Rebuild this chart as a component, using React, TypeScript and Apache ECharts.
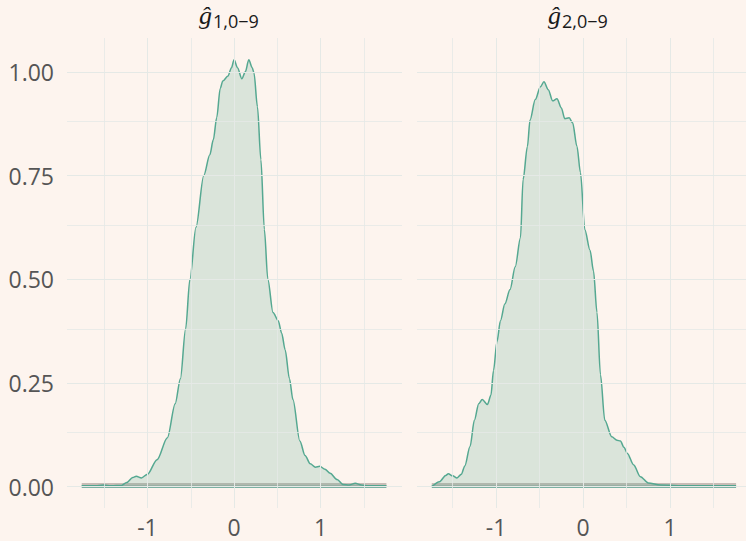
import React, { useEffect, useRef } from "react";
import * as echarts from "echarts";

// Density estimates
const g1: [number, number][] = [
  [-1.76, 0.002], [-1.6, 0.002], [-1.51, 0.004], [-1.42, 0.002], [-1.3, 0.003], [-1.24, 0.01],
  [-1.17, 0.022], [-1.13, 0.025], [-1.07, 0.021], [-1.0, 0.03], [-0.89, 0.065], [-0.77, 0.118],
  [-0.68, 0.2], [-0.62, 0.26], [-0.56, 0.38], [-0.51, 0.5], [-0.44, 0.625], [-0.35, 0.75],
  [-0.28, 0.8], [-0.24, 0.836], [-0.2, 0.89], [-0.16, 0.96], [-0.13, 0.978], [-0.07, 0.99],
  [-0.03, 1.01], [0.0, 1.029], [0.04, 1.01], [0.09, 0.983], [0.13, 1.0], [0.17, 1.029],
  [0.21, 1.01], [0.23, 0.997], [0.27, 0.916], [0.31, 0.788], [0.35, 0.62], [0.39, 0.5],
  [0.45, 0.42], [0.51, 0.4], [0.55, 0.37], [0.59, 0.33], [0.64, 0.26], [0.68, 0.21],
  [0.76, 0.11], [0.82, 0.075], [0.88, 0.055], [0.94, 0.047], [0.99, 0.049], [1.05, 0.042],
  [1.11, 0.032], [1.19, 0.017], [1.26, 0.005], [1.33, 0.004], [1.4, 0.008], [1.47, 0.004],
  [1.55, 0.002], [1.76, 0.002],
];

const g2: [number, number][] = [
  [-1.74, 0.0], [-1.65, 0.012], [-1.58, 0.027], [-1.55, 0.031], [-1.5, 0.026], [-1.45, 0.021],
  [-1.4, 0.03], [-1.36, 0.05], [-1.3, 0.097], [-1.25, 0.16], [-1.2, 0.2], [-1.16, 0.21],
  [-1.1, 0.198], [-1.06, 0.22], [-1.03, 0.28], [-0.99, 0.35], [-0.95, 0.4], [-0.9, 0.44],
  [-0.84, 0.475], [-0.78, 0.53], [-0.72, 0.6], [-0.69, 0.74], [-0.64, 0.82], [-0.61, 0.884],
  [-0.55, 0.933], [-0.49, 0.964], [-0.45, 0.976], [-0.4, 0.957], [-0.35, 0.93], [-0.3, 0.935],
  [-0.25, 0.913], [-0.21, 0.887], [-0.16, 0.889], [-0.12, 0.877], [-0.07, 0.82], [-0.03, 0.757],
  [0.02, 0.62], [0.08, 0.57], [0.12, 0.52], [0.16, 0.42], [0.2, 0.27], [0.25, 0.16],
  [0.33, 0.12], [0.39, 0.112], [0.43, 0.11], [0.47, 0.095], [0.51, 0.08], [0.58, 0.053],
  [0.66, 0.024], [0.75, 0.009], [0.89, 0.004], [1.2, 0.002], [1.76, 0.002],
];

// Flat band of the second group near zero
const band1: [number, number][] = [[-1.76, 0.009], [1.76, 0.009]];
const band2: [number, number][] = [[-1.74, 0.009], [1.76, 0.009]];
const base1: [number, number][] = [[-1.76, 0], [1.76, 0]];
const base2: [number, number][] = [[-1.74, 0], [1.76, 0]];

const yTicks = [0, 0.25, 0.5, 0.75, 1.0];
const yMinor = [0.125, 0.375, 0.625, 0.875];
const xTicks = [-1, 0, 1];
const xMinor = [-1.5, -0.5, 0.5, 1.5];
const titleSubs = ["1,0−9", "2,0−9"];

const BG = "#fdf4ee";
const LINE = "#55a891";
const GRID = "#e5e9e6";
const LABEL = "#555555";
const FONT = "'Open Sans', sans-serif";

export default function App() {
  const ref = useRef<HTMLDivElement>(null);
  useEffect(() => {
    document.body.style.margin = "0";
    if (!ref.current) return;
    const chart = echarts.init(ref.current, undefined, { renderer: "svg" });
    const gridMarks = {
      silent: true,
      symbol: "none",
      label: { show: false },
      lineStyle: { color: GRID, type: "solid", width: 1 },
      data: [
        ...yTicks.map((v) => ({ yAxis: v })),
        ...yMinor.map((v) => ({ yAxis: v, lineStyle: { width: 0.8 } })),
        ...xTicks.map((v) => ({ xAxis: v })),
        ...xMinor.map((v) => ({ xAxis: v, lineStyle: { width: 0.8 } })),
      ],
    };
    const panelSeries = (i: number, dens: [number, number][], band: [number, number][], base: [number, number][]) => [
      {
        type: "line",
        xAxisIndex: i,
        yAxisIndex: i,
        data: band,
        symbol: "none",
        z: 1,
        lineStyle: { width: 0 },
        areaStyle: { color: "rgba(120,105,98,0.4)", opacity: 1 },
        markLine: gridMarks,
      },
      {
        type: "line",
        xAxisIndex: i,
        yAxisIndex: i,
        data: dens,
        symbol: "none",
        smooth: 0.3,
        smoothMonotone: "x",
        z: 3,
        lineStyle: { color: LINE, width: 1.5 },
        areaStyle: { color: "rgba(80,165,140,0.2)", opacity: 1 },
      },
      {
        type: "line",
        xAxisIndex: i,
        yAxisIndex: i,
        data: base,
        symbol: "none",
        z: 4,
        lineStyle: { color: "#4f9a88", width: 2 },
      },
    ];
    const xAxisBase = {
      type: "value",
      axisLine: { show: false },
      axisTick: { show: false },
      splitLine: { show: false },
      axisLabel: {
        customValues: xTicks,
        color: LABEL,
        fontSize: 23,
        fontFamily: FONT,
        margin: 7,
        formatter: (v: number) => String(v),
      },
    };
    const yAxisBase = {
      type: "value",
      min: -0.0515,
      max: 1.0815,
      axisLine: { show: false },
      axisTick: { show: false },
      splitLine: { show: false },
    };
    chart.setOption({
      animation: false,
      backgroundColor: BG,
      grid: [
        { left: 67, right: 344, top: 38, bottom: 33 },
        { left: 417, right: 0, top: 38, bottom: 33 },
      ],
      xAxis: [
        { ...xAxisBase, gridIndex: 0, min: -1.93, max: 1.94 },
        { ...xAxisBase, gridIndex: 1, min: -1.91, max: 1.874 },
      ],
      yAxis: [
        {
          ...yAxisBase,
          gridIndex: 0,
          axisLabel: {
            customValues: yTicks,
            color: LABEL,
            fontSize: 23,
            fontFamily: FONT,
            margin: 13,
            formatter: (v: number) => v.toFixed(2),
          },
        },
        { ...yAxisBase, gridIndex: 1, axisLabel: { show: false } },
      ],
      graphic: [0, 1].map((i) => ({
        type: "group",
        x: i === 0 ? 199 : 548,
        y: 0,
        children: [
          {
            type: "text",
            x: 0,
            y: 2,
            style: {
              text: "ĝ",
              font: "italic 26px 'Liberation Serif', serif",
              fill: "#1a1a1a",
            },
          },
          {
            type: "text",
            x: 14,
            y: 12,
            style: {
              text: titleSubs[i],
              font: `18px ${FONT}`,
              fill: "#1a1a1a",
            },
          },
        ],
      })),
      series: [...panelSeries(0, g1, band1, base1), ...panelSeries(1, g2, band2, base2)],
    });
    return () => chart.dispose();
  }, []);
  return <div ref={ref} style={{ width: 746, height: 541 }} />;
}
